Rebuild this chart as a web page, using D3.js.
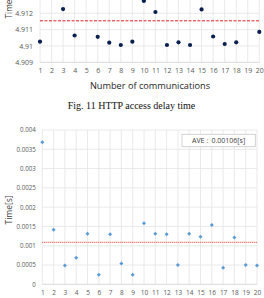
<!DOCTYPE html>
<html><head><meta charset="utf-8">
<script src="https://cdn.jsdelivr.net/npm/d3@7"></script>
<style>html,body{margin:0;padding:0;background:#fff;}svg{display:block;}</style>
</head><body>
<svg id="c" width="264" height="298"></svg>
<script>
// ---- data ----
const categories = d3.range(1, 21);
// Fig. 11 (top, partially cropped): HTTP access delay time [s]; null = outside visible area
const httpDelay = [4.91026, null, 4.91226, 4.91064, null, 4.91056, 4.9102, 4.91006, 4.91026, 4.91276,
                   4.91208, 4.91006, 4.91022, 4.91006, 4.91224, 4.91058, 4.91012, 4.91022, null, 4.91086];
const httpAverage = 4.91154;
const httpGrid = [4.909, 4.91, 4.911, 4.912, 4.913];
const httpTicks = [4.909, 4.91, 4.911, 4.912];
const httpTickLabels = ["4.909", "4.91", "4.911", "4.912"];
// bottom chart: time [s]
const timeValues = [0.00368, 0.001415, 0.00049, 0.00069, 0.00131, 0.00025, 0.0013, 0.00054, 0.00025, 0.00158,
                    0.00131, 0.0013, 0.0005, 0.00131, 0.00123, 0.00154, 0.00043, 0.00121, 0.0005, 0.00049];
const timeAverage = 0.00106;
const timeTicks = [0, 0.0005, 0.001, 0.0015, 0.002, 0.0025, 0.003, 0.0035, 0.004];
const timeTickLabels = ["0", "0.0005", "0.001", "0.0015", "0.002", "0.0025", "0.003", "0.0035", "0.004"];
const legendText = "AVE：0.00106[s]";
const topXLabel = "Number of communications";
const topYLabel = "Time";
const caption = "Fig. 11 HTTP access delay time";
const bottomYLabel = "Time[s]";

const svg = d3.select("#c");
const sans = "'Open Sans', 'Noto Sans', sans-serif";
const grid = "#e4e4e4", tickCol = "#595959";

// ---------- top chart ----------
const xT = d3.scalePoint().domain(categories).range([40, 259.3]);
const yT = d3.scaleLinear().domain([4.909, 4.912]).range([62.3, 13.3]);
const gT = svg.append("g");
gT.selectAll("line.v").data(categories).join("line")
  .attr("x1", d => xT(d)).attr("x2", d => xT(d)).attr("y1", yT(4.909)).attr("y2", -5)
  .attr("stroke", grid).attr("stroke-width", 0.8);
gT.selectAll("line.h").data(httpGrid).join("line")
  .attr("x1", xT(1)).attr("x2", xT(20)).attr("y1", d => yT(d)).attr("y2", d => yT(d))
  .attr("stroke", d => d === 4.909 ? "#d0d0d0" : grid).attr("stroke-width", 0.8);
const yAxT = d3.axisLeft(yT).tickValues(httpTicks).tickSize(0).tickPadding(7)
  .tickFormat((d, i) => httpTickLabels[i]);
gT.append("g").attr("transform", `translate(${xT(1)},0)`).call(yAxT)
  .call(g => g.select(".domain").remove())
  .selectAll("text").attr("font-family", sans).attr("font-size", 7).attr("fill", tickCol);
const xAxT = d3.axisBottom(xT).tickSize(0).tickPadding(6);
gT.append("g").attr("transform", `translate(0,${yT(4.909)})`).call(xAxT)
  .call(g => g.select(".domain").remove())
  .selectAll("text").attr("font-family", sans).attr("font-size", 7).attr("fill", tickCol);
gT.append("line").attr("x1", xT(1)).attr("x2", xT(20))
  .attr("y1", yT(httpAverage)).attr("y2", yT(httpAverage))
  .attr("stroke", "#e02020").attr("stroke-width", 1).attr("stroke-dasharray", "3,1.5");
gT.selectAll("circle").data(categories.filter((c, i) => httpDelay[i] !== null)).join("circle")
  .attr("cx", d => xT(d)).attr("cy", d => yT(httpDelay[d - 1])).attr("r", 2.1)
  .attr("fill", "#0b1f4f");
gT.append("text").attr("transform", "translate(12,18.5) rotate(-90)")
  .attr("font-family", sans).attr("font-size", 8.3).attr("fill", "#404040").text(topYLabel);
gT.append("text").attr("x", 150).attr("y", 88.5).attr("text-anchor", "middle")
  .attr("font-family", sans).attr("font-size", 9.2).attr("fill", "#262626").text(topXLabel);
svg.append("text").attr("x", 131.5).attr("y", 108.5).attr("text-anchor", "middle")
  .attr("font-family", "'Liberation Serif', 'Times New Roman', serif").attr("font-size", 10)
  .attr("fill", "#111").text(caption);

// ---------- bottom chart ----------
const xB = d3.scalePoint().domain(categories).range([42.3, 257]);
const yB = d3.scaleLinear().domain([0, 0.004]).range([284.3, 130]);
const gB = svg.append("g");
gB.selectAll("line.v").data(categories).join("line")
  .attr("x1", d => xB(d)).attr("x2", d => xB(d)).attr("y1", yB(0)).attr("y2", yB(0.004))
  .attr("stroke", grid).attr("stroke-width", 0.8);
gB.selectAll("line.h").data(timeTicks).join("line")
  .attr("x1", xB(1)).attr("x2", xB(20)).attr("y1", d => yB(d)).attr("y2", d => yB(d))
  .attr("stroke", d => d === 0 ? "#d0d0d0" : grid).attr("stroke-width", 0.8);
const yAxB = d3.axisLeft(yB).tickValues(timeTicks).tickSize(0).tickPadding(6.5)
  .tickFormat((d, i) => timeTickLabels[i]);
gB.append("g").attr("transform", `translate(${xB(1)},0)`).call(yAxB)
  .call(g => g.select(".domain").remove())
  .selectAll("text").attr("font-family", sans).attr("font-size", 6.2).attr("fill", tickCol);
const xAxB = d3.axisBottom(xB).tickSize(0).tickPadding(6);
gB.append("g").attr("transform", `translate(0,${yB(0)})`).call(xAxB)
  .call(g => g.select(".domain").remove())
  .selectAll("text").attr("font-family", sans).attr("font-size", 6.5).attr("fill", tickCol);
gB.append("line").attr("x1", xB(1)).attr("x2", xB(20))
  .attr("y1", yB(timeAverage) - 1).attr("y2", yB(timeAverage) - 1)
  .attr("stroke", "#e8504a").attr("stroke-width", 1.2).attr("stroke-dasharray", "1,1");
gB.selectAll("path.pt").data(categories).join("path")
  .attr("transform", d => `translate(${xB(d)},${yB(timeValues[d - 1])}) rotate(45)`)
  .attr("d", d3.symbol(d3.symbolSquare, 8)).attr("fill", "#5b9bd5");
gB.append("rect").attr("x", 182).attr("y", 134.3).attr("width", 73.3).attr("height", 12.4)
  .attr("fill", "#fff").attr("stroke", "#c8c8c8").attr("stroke-width", 0.8);
gB.append("text").attr("x", 218.6).attr("y", 143.3).attr("text-anchor", "middle")
  .attr("font-family", sans).attr("font-size", 7).attr("fill", "#404040").text(legendText);
gB.append("text").attr("transform", "translate(12,210) rotate(-90)").attr("text-anchor", "middle")
  .attr("font-family", sans).attr("font-size", 8.5).attr("fill", "#404040").text(bottomYLabel);
</script>
</body></html>
